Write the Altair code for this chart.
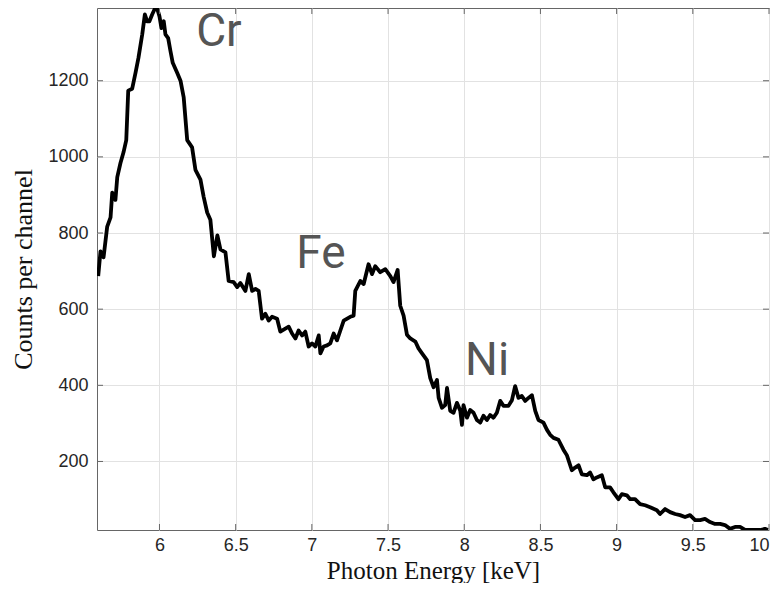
import altair as alt
import pandas as pd

energy = [5.598, 5.613, 5.633, 5.657, 5.679, 5.690, 5.711, 5.723, 5.744, 5.764,
          5.782, 5.795, 5.821, 5.843, 5.862, 5.887, 5.904, 5.919, 5.934, 5.952,
          5.974, 5.985, 6.000, 6.013, 6.028, 6.039, 6.057, 6.072, 6.087, 6.116,
          6.138, 6.159, 6.182, 6.214, 6.236, 6.269, 6.290, 6.313, 6.334, 6.357,
          6.380, 6.400, 6.433, 6.454, 6.487, 6.510, 6.531, 6.564, 6.586, 6.608,
          6.630, 6.651, 6.673, 6.695, 6.717, 6.739, 6.772, 6.793, 6.826, 6.848,
          6.870, 6.892, 6.913, 6.936, 6.957, 6.979, 7.001, 7.023, 7.045, 7.056,
          7.077, 7.100, 7.121, 7.143, 7.165, 7.187, 7.209, 7.252, 7.274, 7.285,
          7.318, 7.340, 7.372, 7.395, 7.416, 7.449, 7.482, 7.515, 7.536, 7.563,
          7.580, 7.602, 7.624, 7.646, 7.679, 7.700, 7.723, 7.755, 7.777, 7.799,
          7.821, 7.832, 7.854, 7.875, 7.887, 7.908, 7.930, 7.952, 7.974, 7.985,
          7.995, 8.018, 8.039, 8.061, 8.083, 8.105, 8.126, 8.149, 8.170, 8.192,
          8.214, 8.236, 8.258, 8.290, 8.313, 8.334, 8.356, 8.378, 8.400, 8.422,
          8.444, 8.466, 8.487, 8.520, 8.543, 8.564, 8.586, 8.618, 8.651, 8.674,
          8.706, 8.728, 8.750, 8.772, 8.805, 8.826, 8.848, 8.870, 8.903, 8.925,
          8.957, 8.979, 9.012, 9.034, 9.067, 9.089, 9.121, 9.154, 9.187, 9.220,
          9.264, 9.285, 9.318, 9.351, 9.384, 9.416, 9.449, 9.482, 9.515, 9.548,
          9.580, 9.613, 9.646, 9.679, 9.711, 9.744, 9.777, 9.810, 9.843, 9.875,
          9.908, 9.941, 9.974, 9.993]

counts = [687, 752, 736, 817, 841, 906, 887, 947, 984, 1012,
          1044, 1174, 1179, 1221, 1260, 1322, 1374, 1356, 1356, 1374,
          1393, 1390, 1369, 1338, 1356, 1322, 1312, 1278, 1247, 1221,
          1200, 1156, 1044, 1025, 966, 940, 895, 854, 835, 739,
          794, 757, 749, 674, 671, 658, 669, 648, 692, 648,
          653, 648, 575, 588, 570, 580, 575, 541, 549, 554,
          536, 523, 544, 531, 541, 502, 510, 502, 531, 484,
          502, 505, 510, 536, 518, 544, 570, 580, 583, 648,
          674, 666, 718, 692, 713, 697, 705, 687, 671, 703,
          609, 583, 533, 523, 515, 497, 484, 466, 419, 395,
          414, 367, 341, 348, 393, 333, 328, 354, 333, 296,
          348, 315, 335, 328, 309, 302, 320, 309, 322, 315,
          328, 359, 346, 346, 361, 398, 367, 372, 359, 367,
          374, 333, 309, 302, 283, 270, 262, 257, 231, 216,
          177, 184, 190, 166, 164, 171, 153, 158, 164, 132,
          132, 119, 101, 114, 111, 101, 101, 88, 85, 80,
          72, 62, 75, 67, 62, 59, 54, 59, 46, 46,
          49, 41, 36, 36, 33, 23, 28, 28, 20, 20,
          20, 20, 23, 20]

x_ticks = [6, 6.5, 7, 7.5, 8, 8.5, 9, 9.5, 10]
y_ticks = [200, 400, 600, 800, 1000, 1200]

peak_labels = ["Cr", "Fe", "Ni"]
peak_energy = [6.39, 7.06, 8.15]
peak_counts = [1291, 708, 427]

W, H = 672, 522
FRAME = "#666666"
X_TITLE = "Photon Energy [keV]"
Y_TITLE = "Counts per channel"

x_scale = alt.Scale(domain=[5.59, 10], nice=False, zero=False)
y_scale = alt.Scale(domain=[20, 1391], nice=False, zero=False)

df = pd.DataFrame({"energy": energy, "counts": counts})
xt = pd.DataFrame({"v": x_ticks})
yt = pd.DataFrame({"v": y_ticks})
lab = pd.DataFrame({"label": peak_labels, "e": peak_energy, "c": peak_counts})

line = alt.Chart(df).mark_line(
    color="black", strokeWidth=3.8, strokeJoin="round", clip=True
).encode(
    x=alt.X("energy:Q", scale=x_scale, title=X_TITLE,
            axis=alt.Axis(values=x_ticks, format="~g", labelPadding=6,
                          titleY=48, titleBaseline="alphabetic", titleFontSize=25)),
    y=alt.Y("counts:Q", scale=y_scale, title=Y_TITLE,
            axis=alt.Axis(values=y_ticks, format="d", labelPadding=9,
                          titleX=-74, titleBaseline="middle", titleFontSize=26)),
)

tick_len = 6
bottom_ticks = alt.Chart(xt).mark_rule(color=FRAME, strokeWidth=1).encode(
    x=alt.X("v:Q", scale=x_scale, title=X_TITLE),
    y=alt.value(H), y2=alt.value(H - tick_len))
top_ticks = alt.Chart(xt).mark_rule(color=FRAME, strokeWidth=1).encode(
    x=alt.X("v:Q", scale=x_scale, title=X_TITLE),
    y=alt.value(0), y2=alt.value(tick_len))
left_ticks = alt.Chart(yt).mark_rule(color=FRAME, strokeWidth=1).encode(
    y=alt.Y("v:Q", scale=y_scale, title=Y_TITLE),
    x=alt.value(0), x2=alt.value(tick_len))
right_ticks = alt.Chart(yt).mark_rule(color=FRAME, strokeWidth=1).encode(
    y=alt.Y("v:Q", scale=y_scale, title=Y_TITLE),
    x=alt.value(W), x2=alt.value(W - tick_len))

labels = alt.Chart(lab).mark_text(
    font="Roboto", fontSize=46, color="#555555", align="center", baseline="alphabetic"
).encode(
    x=alt.X("e:Q", scale=x_scale, title=X_TITLE),
    y=alt.Y("c:Q", scale=y_scale, title=Y_TITLE),
    text="label:N",
)

chart = alt.layer(
    line, bottom_ticks, top_ticks, left_ticks, right_ticks, labels
).properties(
    width=W, height=H,
    autosize=alt.AutoSizeParams(type="none"),
    padding={"left": 89, "top": 0, "right": 5, "bottom": 53},
).configure_view(
    stroke=FRAME, strokeWidth=1
).configure_axis(
    domain=False, ticks=False, tickSize=0,
    grid=True, gridColor="#e2e2e2", gridWidth=1,
    labelFont="Liberation Sans", labelFontSize=18, labelColor="#262626",
    titleFont="Liberation Serif", titleFontWeight="normal",
    titleColor="#111111",
)

chart.save("out.html", embed_options={"renderer": "svg", "actions": False})
